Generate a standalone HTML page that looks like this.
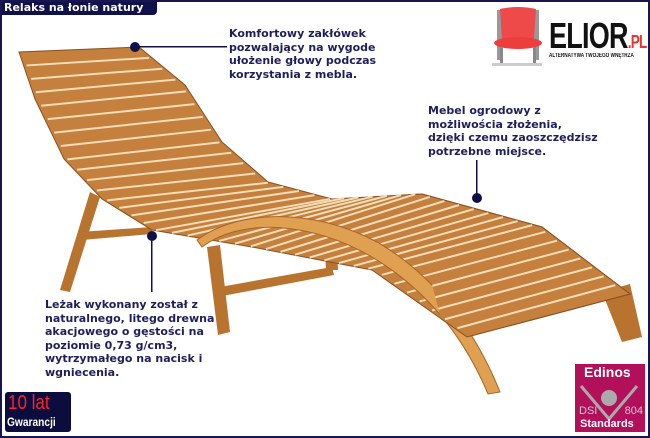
<!DOCTYPE html>
<html><head><meta charset="utf-8"><style>
html,body{margin:0;padding:0;background:#fff}
#w{position:relative;width:646px;height:434px;border:2px solid #1a1450;overflow:hidden;font-family:"DejaVu Sans","Liberation Sans",sans-serif}
.t{position:absolute;font-weight:bold;font-size:11px;line-height:13.5px;color:#1e1e5a;white-space:nowrap}
</style></head><body><div id="w">
<div style="position:absolute;left:-2px;top:-2px;width:157px;height:15px;background:#10104a;border-radius:0 0 4px 0"></div>
<div class="t" style="left:2px;top:-1px;color:#fff;font-size:11px">Relaks na łonie natury</div>
<svg width="646" height="434" style="position:absolute;left:0;top:0" id="s">
<defs><clipPath id="cf"><polygon points="395,150 646,150 646,434 470,434"/></clipPath></defs>
<g id="legs" fill="#b8732f">
<polygon points="88,190 98,195 68,290 58,288"/>
<polygon points="78,230 150,225 150,232 80,238"/>
<polygon points="205,245 218,243 228,330 216,333"/>
<polygon points="218,285 330,265 332,273 220,294"/>
<polygon points="322,225 334,225 336,268 324,268"/>
<polygon points="600,290 628,282 640,335 620,340"/>
</g>
<g id="seatg">
<polygon id="seat" fill="#c4803c" stroke="#8a5020" stroke-width="1"/>
<g id="gaps" stroke="#f3dcb8" stroke-width="2"></g>
</g>
<path d="M200,245 C240,215 310,220 370,255 C420,285 460,330 486,392 L498,390 C472,325 430,272 375,240 C310,205 235,208 195,238 Z" fill="#e0a052" stroke="#a8652a" stroke-width="1"/>
<use href="#seatg" clip-path="url(#cf)"/>
<g fill="#101048">
<circle cx="133" cy="45" r="5"/><rect x="133" y="44" width="92" height="1.5"/>
<circle cx="475" cy="196" r="5"/><rect x="474" y="158" width="1.5" height="38"/>
<circle cx="150" cy="234" r="5"/><rect x="149" y="234" width="1.5" height="56"/>
</g>
</svg>
<div class="t" style="left:227px;top:25px">Komfortowy zakłówek<br>pozwalający na wygode<br>ułożenie głowy podczas<br>korzystania z mebla.</div>
<div class="t" style="left:426px;top:102px">Mebel ogrodowy z<br>możliwościa złożenia,<br>dzięki czemu zaoszczędzisz<br>potrzebne miejsce.</div>
<div class="t" style="left:43px;top:296px">Leżak wykonany został z<br>naturalnego, litego drewna<br>akacjowego o gęstości na<br>poziomie 0,73 g/cm3,<br>wytrzymałego na nacisk i<br>wgniecenia.</div>
<svg width="60" height="65" style="position:absolute;left:488px;top:3px">
<rect x="7" y="5" width="5" height="50" fill="#999"/><rect x="44" y="5" width="5" height="50" fill="#999"/>
<path d="M10,4 Q28,0 46,4 L44,34 L12,34 Z" fill="#ef4a4a"/>
<ellipse cx="28" cy="38" rx="24" ry="6" fill="#ee3d3d"/>
<rect x="10" y="42" width="3" height="18" fill="#888"/><rect x="43" y="42" width="3" height="18" fill="#888"/>
<rect x="2" y="58" width="50" height="3" fill="#ccc"/>
</svg>
<div style="position:absolute;left:547px;top:17px;font-family:'Liberation Sans Narrow','Liberation Sans',sans-serif;font-weight:bold;font-size:36px;line-height:34px;color:#111;transform:scaleX(0.75);transform-origin:left top;letter-spacing:-1px">ELIOR<span style="color:#e33;font-size:18px">.PL</span></div>
<div style="position:absolute;left:547px;top:51px;font-family:'Liberation Sans',sans-serif;font-weight:bold;font-size:6px;color:#111;transform:scaleX(0.78);transform-origin:left top;white-space:nowrap">ALTERNATYWA TWOJEGO WNĘTRZA</div>
<div style="position:absolute;left:3px;top:390px;width:66px;height:40px;background:#0c0c3e;border-radius:3px"></div>
<div style="position:absolute;left:6px;top:390px;color:#f22;font-family:'Liberation Sans',sans-serif;font-size:20px;line-height:22px;transform:scaleX(0.85);transform-origin:left top">10 lat</div>
<div style="position:absolute;left:5px;top:413px;color:#fff;font-family:'Liberation Sans',sans-serif;font-size:12px;font-weight:bold;transform:scaleX(0.85);transform-origin:left top">Gwarancji</div>
<div style="position:absolute;left:573px;top:362px;width:70px;height:68px;background:#b3105c"></div>
<svg width="70" height="68" style="position:absolute;left:573px;top:362px">
<path d="M6,22 L34,55 L62,22" stroke="#aaa" stroke-width="3" fill="none"/><circle cx="34" cy="34" r="8" fill="#aaa"/>
</svg>
<div style="position:absolute;left:582px;top:362px;color:#fff;font-family:'Liberation Sans',sans-serif;font-weight:bold;font-size:14px">Edinos</div>
<div style="position:absolute;left:577px;top:403px;color:#ccc;font-family:'Liberation Sans',sans-serif;font-size:11px;width:64px"><span>DSI</span><span style="float:right">804</span></div>
<div style="position:absolute;left:578px;top:416px;color:#fff;font-family:'Liberation Sans',sans-serif;font-weight:bold;font-size:11px">Standards</div>
<script>
var S=[[[17,50],[137,45]],[[33,97],[183,83]],[[62,157],[220,140]],[[100,197],[266,180]],[[150,228],[330,197]],[[250,245],[420,192]],[[370,268],[540,225]],[[465,335],[628,292]]];
var L=S.map(s=>s[0]),R=S.map(s=>s[1]);
var pts=L.concat(R.slice().reverse()).map(p=>p.join(',')).join(' ');
document.getElementById('seat').setAttribute('points',pts);
var M=S.map(s=>[(s[0][0]+s[1][0])/2,(s[0][1]+s[1][1])/2]);
var cum=[0];for(var i=1;i<M.length;i++){cum.push(cum[i-1]+Math.hypot(M[i][0]-M[i-1][0],M[i][1]-M[i-1][1]));}
var tot=cum[cum.length-1];
function lerp(p,q,u){return [p[0]+(q[0]-p[0])*u,p[1]+(q[1]-p[1])*u];}
var g=document.getElementById('gaps'),h='',N=38;
for(var k=1;k<N;k++){var d=tot*k/N,i=0;while(i<cum.length-2&&cum[i+1]<d)i++;var u=(d-cum[i])/(cum[i+1]-cum[i]);
var a=lerp(L[i],L[i+1],u),b=lerp(R[i],R[i+1],u);
h+='<line x1="'+(a[0]+3)+'" y1="'+a[1]+'" x2="'+(b[0]-3)+'" y2="'+b[1]+'"/>';}
g.innerHTML=h;
</script>
</div></body></html>
